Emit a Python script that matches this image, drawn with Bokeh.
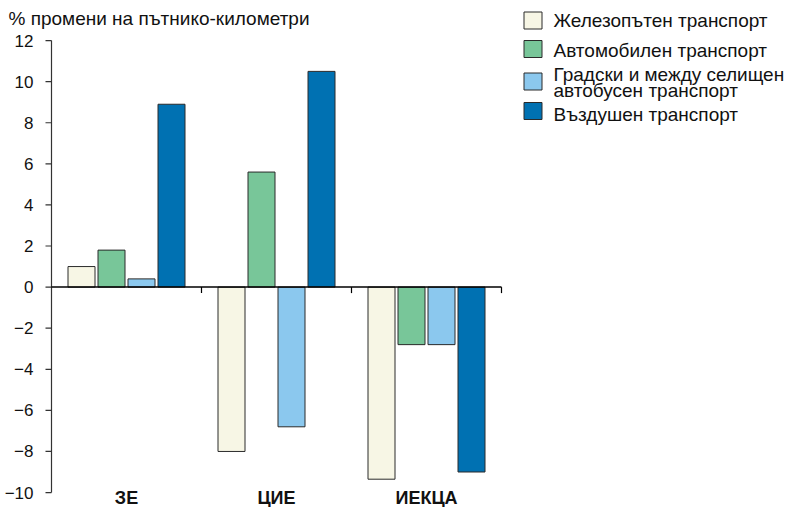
from bokeh.plotting import figure
from bokeh.models import Range1d, ColumnDataSource
from bokeh.core.properties import value
from bokeh.embed import file_html
from bokeh.resources import INLINE

# ---- data ----
categories = ["ЗЕ", "ЦИЕ", "ИЕКЦА"]
series_names = ["Железопътен транспорт", "Автомобилен транспорт",
                "Градски и между селищен\nавтобусен транспорт", "Въздушен транспорт"]
rail = [1.0, -8.0, -9.35]
road = [1.8, 5.6, -2.8]
bus = [0.4, -6.8, -2.8]
air = [8.9, 10.5, -9.0]
y_ticks = [12, 10, 8, 6, 4, 2, 0, -2, -4, -6, -8, -10]
y_title = "% промени на пътнико-километри"

colors = ["#F7F6E5", "#78C699", "#8BC8EE", "#0071B2"]
FONT = "Liberation Sans"

# ---- layout: screen pixel <-> data scale ----
W, H = 786, 507
X0_PX = 51.0          # pixel of x = 0 (y axis)
PX_X = 150.0          # px per category
Y0_PX = 286.6         # pixel of y = 0
PX_Y = 20.545         # px per unit


def dx(px):
    return (px - X0_PX) / PX_X


def dy(py):
    return (Y0_PX - py) / PX_Y


p = figure(width=W, height=H, output_backend="svg", toolbar_location=None,
           x_range=Range1d(dx(0), dx(W)), y_range=Range1d(dy(H), dy(0)),
           min_border_left=0, min_border_right=0, min_border_top=0, min_border_bottom=0,
           x_axis_location=None, y_axis_location=None)
p.outline_line_color = None
p.grid.visible = False
p.background_fill_color = "white"
p.border_fill_color = "white"

n = len(categories)

# ---- y axis (drawn in the frame so the title is not clipped) ----
p.segment(x0=[0], y0=[min(y_ticks)], x1=[0], y1=[max(y_ticks)],
          line_color="#333333", line_width=1.2)
p.segment(x0=[0] * len(y_ticks), y0=y_ticks, x1=[-6 / PX_X] * len(y_ticks), y1=y_ticks,
          line_color="#333333", line_width=1.2)
tick_labels = [str(t) if t >= 0 else "\u2212" + str(-t) for t in y_ticks]
p.text(x=[-18 / PX_X] * len(y_ticks), y=y_ticks, text=tick_labels,
       text_font=value(FONT), text_font_size="17px", text_align="right",
       text_baseline="middle", text_color="#111111")

# ---- bars ----
offsets = [-0.3, -0.1, 0.1, 0.3]
bw = 27 / PX_X
centers = [i + 0.5 for i in range(n)]
for vals, off, col in zip([rail, road, bus, air], offsets, colors):
    src = ColumnDataSource(dict(x=[c + off for c in centers], top=vals, bottom=[0] * len(vals)))
    p.vbar(x="x", top="top", bottom="bottom", width=bw, source=src,
           fill_color=col, line_color="#2a2a2a", line_width=1)

# ---- zero axis line with category-boundary ticks ----
p.segment(x0=[0], y0=[0], x1=[n], y1=[0], line_color="black", line_width=1.5)
p.segment(x0=list(range(1, n + 1)), y0=[0] * n, x1=list(range(1, n + 1)),
          y1=[-6 / PX_Y] * n, line_color="black", line_width=1.2)

# ---- category labels ----
p.text(x=centers, y=[dy(497)] * n, text=categories,
       text_font=value(FONT), text_font_style="bold", text_font_size="18px",
       text_align="center", text_baseline="middle", text_color="#111111")

# ---- title ----
p.text(x=[dx(8)], y=[dy(18)], text=[y_title], text_font=value(FONT),
       text_font_size="19px", text_align="left", text_baseline="middle",
       text_color="#111111")

# ---- legend ----
sw_y = [20, 48.5, 81, 110.5]
p.rect(x=[dx(532.5)] * 4, y=[dy(v) for v in sw_y], width=18, height=17,
       width_units="screen", height_units="screen",
       fill_color=colors, line_color="#2a2a2a", line_width=1)
centers_y = [[20], [50], [74, 90], [114]]
tx, ty, tt = [], [], []
for name, cys in zip(series_names, centers_y):
    for line, c in zip(name.split("\n"), cys):
        tx.append(dx(553))
        ty.append(dy(c))
        tt.append(line)
p.text(x=tx, y=ty, text=tt, text_font=value(FONT), text_font_size="19px",
       text_align="left", text_baseline="middle", text_color="#111111")

open("out.html", "w").write(file_html(p, INLINE))
